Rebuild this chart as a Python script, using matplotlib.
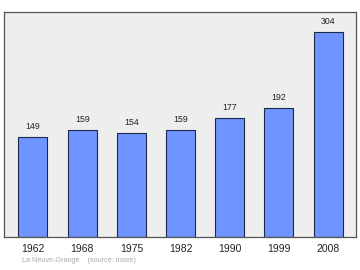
import matplotlib
matplotlib.use("Agg")
import matplotlib.pyplot as plt

plt.rcParams["font.family"] = ["Liberation Sans", "DejaVu Sans"]

annees = ["1962", "1968", "1975", "1982", "1990", "1999", "2008"]
population = [149, 159, 154, 159, 177, 192, 304]

fig = plt.figure(figsize=(3.6, 2.7), dpi=100)
ax = fig.add_axes([0.011, 0.122, 0.977, 0.834])
ax.set_facecolor("#eeeeee")

x = range(len(annees))
ax.bar(x, population, width=0.59, color="#7094ff", edgecolor="#1c2a4a", linewidth=0.8)

for i, v in zip(x, population):
    ax.text(i, v + 9, str(v), ha="center", va="bottom", fontsize=6.3, color="#222222")

ax.set_xlim(-0.59, 6.56)
ax.set_ylim(0, 334)
ax.set_yticks([])
ax.set_xticks(list(x))
ax.set_xticklabels(annees, fontsize=7.5, color="#222222")
ax.tick_params(axis="x", length=0, pad=5)

for s in ax.spines.values():
    s.set_color("#555555")
    s.set_linewidth(0.9)

fig.text(0.06, 0.03, "La Neuve-Grange    (source: Insee)", fontsize=5.2, color="#aaaaaa")

fig.savefig("out.png", dpi=100)
